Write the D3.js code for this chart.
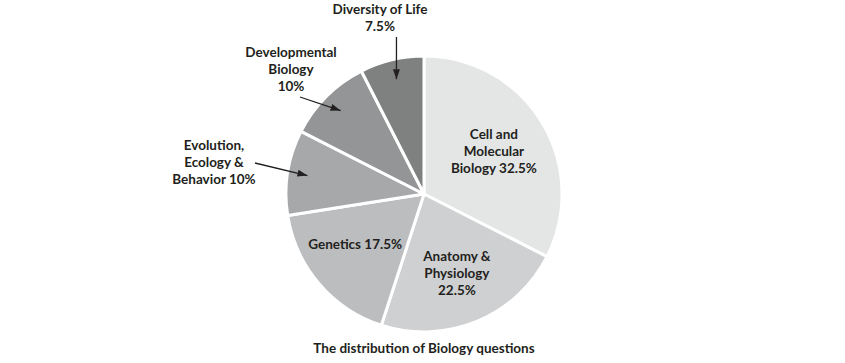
<!DOCTYPE html>
<html>
<head>
<meta charset="utf-8">
<script src="https://cdn.jsdelivr.net/npm/d3@7"></script>
<style>
  html, body { margin: 0; padding: 0; background: #fff; }
  svg text { font-family: Lato, "Open Sans", sans-serif; font-weight: 700; font-size: 13.5px; fill: #231f20; }
</style>
</head>
<body>
<div id="chart"></div>
<script>
// slices in clockwise order from 12 o'clock
const categories = ["Cell and Molecular Biology", "Anatomy & Physiology", "Genetics",
  "Evolution, Ecology & Behavior", "Developmental Biology", "Diversity of Life"];
const shares = [32.5, 22.5, 17.5, 10, 10, 7.5];
const labelLines = [
  ["Cell and", "Molecular", "Biology 32.5%"],
  ["Anatomy &", "Physiology", "22.5%"],
  ["Genetics 17.5%"],
  ["Evolution,", "Ecology &", "Behavior 10%"],
  ["Developmental", "Biology", "10%"],
  ["Diversity of Life", "7.5%"]
];
const fills = ["#e4e5e5", "#cfd0d1", "#bcbdbf", "#a6a8aa", "#939596", "#7f8080"];
const title = "The distribution of Biology questions";

const width = 845, height = 363;
const cx = 424, cy = 194, radius = 138;
const lineH = 17;

// which labels sit outside with an arrow, and where their text block goes
// (tail x of null = straight down from the label to the tip)
const outside = {
  3: { x: 214, y: 150, tail: [255, 163] },
  4: { x: 291, y: 57, tail: [300, 97] },
  5: { x: 380, y: 14, tail: [null, 37] }
};
const insideR = [82, 86, 84];
const insideNudge = [[0, 0], [0, 0], [-5, -4]];

const svg = d3.select("#chart").append("svg")
  .attr("width", width).attr("height", height);

svg.append("defs").append("marker")
  .attr("id", "head")
  .attr("viewBox", "0 0 10 10")
  .attr("refX", 10).attr("refY", 5)
  .attr("markerWidth", 10).attr("markerHeight", 10)
  .attr("markerUnits", "userSpaceOnUse")
  .attr("orient", "auto")
  .append("path").attr("d", "M0,1.5L10,5L0,8.5Z").attr("fill", "#231f20");

const pie = d3.pie().sort(null).value(d => d)(shares);
const arc = d3.arc().innerRadius(0).outerRadius(radius);

const g = svg.append("g").attr("transform", `translate(${cx},${cy})`);

g.selectAll("path.slice")
  .data(pie)
  .join("path")
  .attr("class", "slice")
  .attr("d", arc)
  .attr("fill", (d, i) => fills[i])
  .attr("stroke", "#fff")
  .attr("stroke-width", 3)
  .attr("stroke-linejoin", "round");

// inside labels
pie.forEach((d, i) => {
  if (outside[i]) return;
  let [x, y] = d3.arc().innerRadius(insideR[i]).outerRadius(insideR[i]).centroid(d);
  x += insideNudge[i][0];
  y += insideNudge[i][1];
  const lines = labelLines[i];
  const t = g.append("text").attr("text-anchor", "middle");
  lines.forEach((s, k) => {
    t.append("tspan").attr("x", x)
      .attr("y", y + (k - (lines.length - 1) / 2) * lineH + 4.5)
      .text(s);
  });
});

// outside labels with arrows
pie.forEach((d, i) => {
  const o = outside[i];
  if (!o) return;
  const t = svg.append("text").attr("text-anchor", "middle");
  labelLines[i].forEach((s, k) => {
    t.append("tspan").attr("x", o.x).attr("y", o.y + k * lineH).text(s);
  });
  const [tx, ty] = d3.arc().innerRadius(118).outerRadius(118).centroid(d);
  const x2 = cx + tx, y2 = cy + ty;
  svg.append("line")
    .attr("x1", o.tail[0] === null ? x2 : o.tail[0]).attr("y1", o.tail[1])
    .attr("x2", x2).attr("y2", y2)
    .attr("stroke", "#231f20").attr("stroke-width", 1.3)
    .attr("marker-end", "url(#head)");
});

svg.append("text")
  .attr("x", cx).attr("y", 353)
  .attr("text-anchor", "middle")
  .text(title);
</script>
</body>
</html>
